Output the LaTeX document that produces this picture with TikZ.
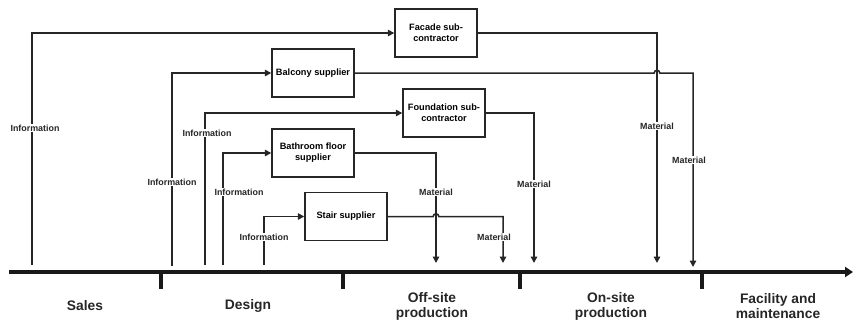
\documentclass[tikz,border=0pt]{standalone}
\usepackage{fontspec}
\setmainfont{Liberation Sans}
\usetikzlibrary{arrows.meta,calc}

\tikzset{
  party/.style={draw=black!85, line width=1.4pt, minimum width=82pt, minimum height=48pt,
    align=center, font=\bfseries\fontsize{9.2}{11}\selectfont, inner sep=1pt, fill=white},
  conn/.style={draw=black!85, line width=1.5pt, -{Triangle[length=6.5pt,width=6.5pt]}},
  flowlbl/.style={fill=white, inner sep=1pt, font=\bfseries\fontsize{8.9}{10}\selectfont, text=black!85},
  phase/.style={align=center, font=\bfseries\fontsize{13.8}{15}\selectfont, text=black!85},
  axis/.style={draw=black!90, line width=3.6pt, -{Triangle[length=8pt,width=10pt]}},
  tick/.style={draw=black!90, line width=3.2pt}
}

\begin{document}
\begin{tikzpicture}[x=1pt, y=-1pt]
  \useasboundingbox (0,0) rectangle (853,321);

  % time axis and phase boundaries
  \coordinate (ax0) at (9,272);
  \coordinate (ax1) at (853,272);
  \draw[axis] (ax0) -- (ax1);
  \foreach \tx [count=\k] in {161,343,520,702}{
    \coordinate (tk\k a) at (\tx,272);
    \coordinate (tk\k b) at (\tx,289);
    \draw[tick] (tk\k a) -- (tk\k b);
  }

  % phases
  \node[phase] (sales)    at (85,306)  {Sales};
  \node[phase] (design)   at (248,306) {Design};
  \node[phase] (offsite)  at (432,306) {Off-site\\production};
  \node[phase] (onsite)   at (611,306) {On-site\\production};
  \node[phase] (facility) at (778,306) {Facility and\\maintenance};

  % suppliers and subcontractors
  \node[party] (facade)     at (436,33)    {Facade sub-\\contractor};
  \node[party] (balcony)    at (313,73)    {Balcony supplier};
  \node[party] (foundation) at (444,113)   {Foundation sub-\\contractor};
  \node[party] (bathroom)   at (313,153)   {Bathroom floor\\supplier};
  \node[party] (stair)      at (346,216.5) {Stair supplier};

  % start points of information flows
  \coordinate (if) at (32,265);
  \coordinate (ib) at (172,266);
  \coordinate (io) at (205,265);
  \coordinate (ih) at (223,265);
  \coordinate (is) at (264,265);

  % end points of material flows
  \coordinate (mf) at (657,263);
  \coordinate (mb) at (693,267);
  \coordinate (mo) at (534,263);
  \coordinate (mh) at (436,263);
  \coordinate (ms) at (503,263);

  % information flows
  \draw[conn] (if) |- (facade.west);
  \draw[conn] (ib) |- (balcony.west);
  \draw[conn] (io) |- (foundation.west);
  \draw[conn] (ih) |- (bathroom.west);
  \draw[conn] (is) |- (stair.west);

  % material flows (with line hops at crossings)
  \draw[conn] (facade.east) -| (mf);
  \draw[conn] (balcony.east) -- ($(balcony.east -| mf)+(-2.8pt,0)$)
      arc[start angle=180, end angle=0, radius=2.8pt] -| (mb);
  \draw[conn] (foundation.east) -| (mo);
  \draw[conn] (bathroom.east) -| (mh);
  \draw[conn] (stair.east) -- ($(stair.east -| mh)+(-2.8pt,0)$)
      arc[start angle=180, end angle=0, radius=2.8pt] -| (ms);

  % flow labels
  \node[flowlbl] (lif) at (35,128)  {Information};
  \node[flowlbl] (lib) at (172,182) {Information};
  \node[flowlbl] (lio) at (207,133) {Information};
  \node[flowlbl] (lih) at (239,192) {Information};
  \node[flowlbl] (lis) at (264,237) {Information};
  \node[flowlbl] (lmf) at (657,126) {Material};
  \node[flowlbl] (lmb) at (689,160) {Material};
  \node[flowlbl] (lmo) at (534,184) {Material};
  \node[flowlbl] (lmh) at (436,192) {Material};
  \node[flowlbl] (lms) at (494,237) {Material};
\end{tikzpicture}
\end{document}
